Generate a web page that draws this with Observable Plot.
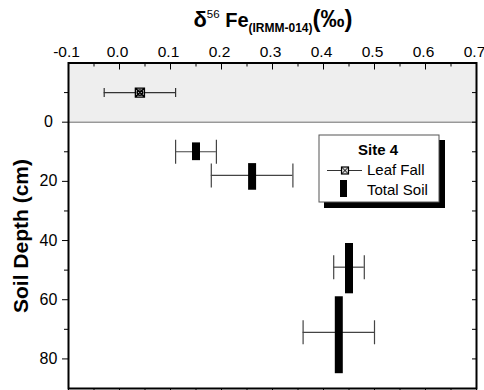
<!DOCTYPE html>
<html><head><meta charset="utf-8">
<script src="https://cdn.jsdelivr.net/npm/d3@7"></script>
<script src="https://cdn.jsdelivr.net/npm/@observablehq/plot@0.6"></script>
<style>
body{margin:0;background:#fff}
#chart{position:relative;width:484px;height:390px}
</style>
</head><body><div id="chart"></div>
<script>
// ---- data ----
const xTicks = [-0.1, 0.0, 0.1, 0.2, 0.3, 0.4, 0.5, 0.6, 0.7];
const xMinor = [-0.05, 0.05, 0.15, 0.25, 0.35, 0.45, 0.55, 0.65];
const xBottom = [-0.1, -0.05, 0, 0.05, 0.1, 0.15, 0.2, 0.25, 0.3, 0.35, 0.4, 0.45, 0.5, 0.55, 0.6, 0.65, 0.7];
const yMajor = [0, 20, 40, 60, 80];
const yMinor = [-10, 10, 30, 50, 70];
const yRight = [-10, 0, 10, 20, 30, 40, 50, 60, 70, 80];

const leafValue = [0.04];
const leafDepth = [-10];
const leafLo = [-0.03];
const leafHi = [0.11];

const soilValue = [0.15, 0.26, 0.45, 0.43];
const soilTop = [7, 14, 41, 59];
const soilBottom = [13, 23, 58, 85];
const soilErrDepth = [10, 18, 49, 71];
const soilLo = [0.11, 0.18, 0.42, 0.36];
const soilHi = [0.19, 0.34, 0.48, 0.50];

const litterBand = [{top: -20, bottom: 0}];

const leaf = leafValue.map((v, i) => ({value: v, depth: leafDepth[i], lo: leafLo[i], hi: leafHi[i]}));
const soil = soilValue.map((v, i) => ({value: v, top: soilTop[i], bottom: soilBottom[i], depth: soilErrDepth[i], lo: soilLo[i], hi: soilHi[i]}));

// ---- symbols ----
const capSymbol = {draw(ctx, size) { const r = Math.sqrt(size / Math.PI); ctx.moveTo(0, -r); ctx.lineTo(0, r); }};
const leafSymbol = {draw(ctx, size) {
  const r = Math.sqrt(size / Math.PI);
  ctx.moveTo(-r, -r); ctx.lineTo(r, -r); ctx.lineTo(r, r); ctx.lineTo(-r, r); ctx.closePath();
  ctx.moveTo(-r, -r); ctx.lineTo(r, r); ctx.moveTo(r, -r); ctx.lineTo(-r, r);
  const c = r * 0.6; ctx.moveTo(c, 0); ctx.arc(0, 0, c, 0, 2 * Math.PI);
}};

const empty = () => "";
const FONT = "Liberation Sans, Arial, Helvetica, sans-serif";

const plot = Plot.plot({
  width: 484,
  height: 390,
  marginLeft: 68,
  marginRight: 8,
  marginTop: 62.5,
  marginBottom: 2,
  style: {fontFamily: FONT, fontSize: "16px", color: "black", background: "white", overflow: "visible"},
  x: {domain: [-0.1, 0.7], axis: null},
  y: {domain: [-20, 90], reverse: true, axis: null},
  marks: [
    Plot.rect(litterBand, {y1: "top", y2: "bottom", fill: "#eeeeee"}),
    Plot.ruleY([0], {stroke: "#999", strokeWidth: 1.5}),
    // axes
    Plot.axisX({anchor: "top", ticks: xTicks, tickSize: 0, tickPadding: 6, fontSize: 15.5, dx: -2, tickFormat: d => d.toFixed(1), label: null}),
    Plot.axisX({anchor: "top", ticks: xTicks, tickSize: -6, tickFormat: empty, label: null}),
    Plot.axisX({anchor: "top", ticks: xMinor, tickSize: -3, tickFormat: empty, label: null}),
    Plot.axisX({anchor: "bottom", ticks: xBottom, tickSize: 4, tickFormat: empty, label: null}),
    Plot.axisY({anchor: "left", ticks: yMajor, tickSize: 6, tickPadding: 14, textAnchor: "middle", fontSize: 16, tickFormat: d => String(d), label: null}),
    Plot.axisY({anchor: "left", ticks: yMinor, tickSize: 4, tickFormat: empty, label: null}),
    Plot.axisY({anchor: "right", ticks: yRight, tickSize: -5, tickFormat: empty, label: null}),
    // leaf fall
    Plot.ruleY(leaf, {y: "depth", x1: "lo", x2: "hi", stroke: "#333", strokeWidth: 1.2}),
    Plot.dot(leaf, {x: "lo", y: "depth", symbol: capSymbol, r: 4.5, stroke: "#333", strokeWidth: 1.2}),
    Plot.dot(leaf, {x: "hi", y: "depth", symbol: capSymbol, r: 4.5, stroke: "#333", strokeWidth: 1.2}),
    Plot.dot(leaf, {x: "value", y: "depth", symbol: leafSymbol, r: 4.5, stroke: "black", fill: "#ddd", strokeWidth: 1.4}),
    // total soil
    Plot.ruleY(soil, {y: "depth", x1: "lo", x2: "hi", stroke: "#444", strokeWidth: 1.2}),
    Plot.dot(soil, {x: "lo", y: "depth", symbol: capSymbol, r: 12, stroke: "#444", strokeWidth: 1.2}),
    Plot.dot(soil, {x: "hi", y: "depth", symbol: capSymbol, r: 12, stroke: "#444", strokeWidth: 1.2}),
    Plot.ruleX(soil, {x: "value", y1: "top", y2: "bottom", stroke: "black", strokeWidth: 8}),
    Plot.frame({stroke: "black", strokeWidth: 2})
  ]
});

document.getElementById("chart").appendChild(plot);

// ---- titles and legend ----
const svg = d3.select(plot);
const t = svg.append("text")
  .attr("x", 273).attr("y", 27)
  .attr("text-anchor", "middle")
  .attr("font-family", FONT)
  .attr("fill", "black");
t.append("tspan").attr("font-size", 22).attr("font-weight", "bold").text("δ");
t.append("tspan").attr("font-size", 11.5).attr("dy", -9).text("56");
t.append("tspan").attr("font-size", 20).attr("font-weight", "bold").attr("dy", 9).text(" Fe");
t.append("tspan").attr("font-size", 12).attr("font-weight", "bold").attr("dy", 5).text("(IRMM-014)");
t.append("tspan").attr("font-size", 24).attr("font-weight", "bold").attr("dy", -5).text("(‰)");

svg.append("text")
  .attr("transform", "translate(28,236) rotate(-90)")
  .attr("text-anchor", "middle")
  .attr("font-family", FONT)
  .attr("font-size", 21)
  .attr("font-weight", "bold")
  .attr("fill", "black")
  .text("Soil Depth (cm)");

const lg = svg.append("g").attr("font-family", FONT).attr("font-size", 15).attr("fill", "black").attr("text-anchor", "start");
lg.append("rect").attr("x", 324).attr("y", 140).attr("width", 121).attr("height", 68).attr("fill", "black");
lg.append("rect").attr("x", 319).attr("y", 135).attr("width", 120).attr("height", 67).attr("fill", "white").attr("stroke", "#555").attr("stroke-width", 1);
lg.append("text").attr("x", 378).attr("y", 155).attr("text-anchor", "middle").attr("font-weight", "bold").text("Site 4");
lg.append("line").attr("x1", 327).attr("x2", 362).attr("y1", 170.5).attr("y2", 170.5).attr("stroke", "#333").attr("stroke-width", 1.2);
lg.append("rect").attr("x", 341.5).attr("y", 167).attr("width", 7).attr("height", 7).attr("fill", "#ddd").attr("stroke", "black").attr("stroke-width", 1.2);
lg.append("path").attr("d", "M341.5,167L348.5,174M348.5,167L341.5,174").attr("stroke", "black").attr("stroke-width", 1);
lg.append("text").attr("x", 367).attr("y", 175).attr("text-anchor", "start").text("Leaf Fall");
lg.append("rect").attr("x", 340).attr("y", 180).attr("width", 7).attr("height", 17).attr("fill", "black");
lg.append("text").attr("x", 367).attr("y", 195).attr("text-anchor", "start").text("Total Soil");
</script>
</body></html>
